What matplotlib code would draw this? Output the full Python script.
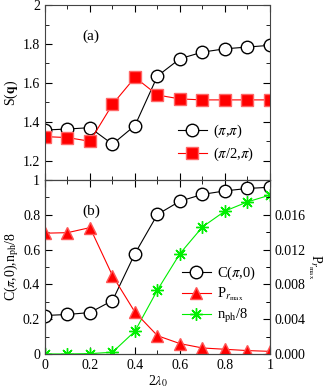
import matplotlib
matplotlib.use('Agg')
import matplotlib.pyplot as plt
from matplotlib.ticker import MultipleLocator, FormatStrFormatter, FuncFormatter

plt.rcParams['font.family'] = ['Liberation Serif', 'DejaVu Serif']
plt.rcParams['mathtext.fontset'] = 'stix'
plt.rcParams['font.size'] = 10

lam = [0.0, 0.1, 0.2, 0.3, 0.4, 0.5, 0.6, 0.7, 0.8, 0.9, 1.0]

# panel (a)
s_pipi = [1.357, 1.362, 1.369, 1.284, 1.380, 1.635, 1.724, 1.758, 1.775, 1.784, 1.793]
s_pi2pi = [1.323, 1.318, 1.299, 1.489, 1.628, 1.537, 1.517, 1.512, 1.512, 1.512, 1.512]

# panel (b)
c_pi0 = [0.221, 0.227, 0.238, 0.307, 0.577, 0.802, 0.878, 0.917, 0.937, 0.951, 0.958]
nph8 = [0.0, 0.0, 0.002, 0.01, 0.131, 0.368, 0.577, 0.730, 0.821, 0.874, 0.913]
p_rmax = [0.01388, 0.01394, 0.01452, 0.0090, 0.0048, 0.0021, 0.00119, 0.00069, 0.00054, 0.00039, 0.0003]

fig = plt.figure(figsize=(3.27, 3.92), dpi=100)
ax1 = fig.add_axes([0.1376, 0.541, 0.688, 0.446])
ax2 = fig.add_axes([0.1376, 0.097, 0.688, 0.444])

gfmt = FuncFormatter(lambda v, p: '%g' % round(v, 6))


def style(ax):
    ax.tick_params(which='both', direction='in', top=True, right=True, labelsize=10)
    ax.tick_params(which='major', length=5)
    ax.tick_params(which='minor', length=3)
    for s in ax.spines.values():
        s.set_color('#444444')
    ax.xaxis.set_major_locator(MultipleLocator(0.2))
    ax.xaxis.set_minor_locator(MultipleLocator(0.1))


ax1.plot(lam, s_pipi, '-o', color='black', lw=0.8, ms=9, mfc='white', mec='black',
         mew=1.0, label=r'($\pi$,$\pi$)')
ax1.plot(lam, s_pi2pi, '-s', color='red', lw=0.8, ms=8, mfc='red', mec='#ff6666',
         mew=1.0, label=r'($\pi$/2,$\pi$)')
ax1.set_xlim(0, 1)
ax1.set_ylim(1.1, 2.0)
style(ax1)
ax1.yaxis.set_major_locator(MultipleLocator(0.2))
ax1.yaxis.set_minor_locator(MultipleLocator(0.1))
ax1.yaxis.set_major_formatter(gfmt)
ax1.set_yticks([1.2, 1.4, 1.6, 1.8, 2.0])
ax1.tick_params(labelbottom=False)
ax1.set_ylabel(r'S($\mathbf{q}$)', labelpad=2)
ax1.text(0.165, 1.84, '(a)', fontsize=11, va='center')
ax1.legend(loc='lower right', bbox_to_anchor=(0.98, 0.03), frameon=False,
           fontsize=10.5, handlelength=2.0, handletextpad=0.4, borderpad=0.3, labelspacing=0.4)

ax3 = ax2.twinx()
l1, = ax2.plot(lam, c_pi0, '-o', color='black', lw=0.8, ms=9, mfc='white', mec='black',
               mew=1.0, label=r'C($\pi$,0)', zorder=3)
l3, = ax2.plot(lam, nph8, '-', color='#00ee00', lw=0.8, marker=(8, 2, 0), ms=9,
               mec='#00ee00', mew=1.0, label=r'n$_{\mathrm{ph}}$/8', zorder=3)
l2, = ax3.plot(lam, p_rmax, '-^', color='red', lw=0.8, ms=8, mfc='red', mec='#ff5555',
               mew=1.0, label=r'P$_{r_{\mathrm{max}}}$')
ax2.set_xlim(0, 1)
ax2.set_ylim(0, 1)
ax3.set_ylim(0, 0.02)
style(ax2)
ax2.tick_params(right=False)
ax2.yaxis.set_major_locator(MultipleLocator(0.2))
ax2.yaxis.set_minor_locator(MultipleLocator(0.1))
ax2.yaxis.set_major_formatter(gfmt)
ax2.xaxis.set_major_formatter(gfmt)
ax3.tick_params(which='both', direction='in', labelsize=10)
ax3.tick_params(which='major', length=5)
ax3.tick_params(which='minor', length=3)
ax3.set_yticks([0, 0.004, 0.008, 0.012, 0.016])
ax3.yaxis.set_minor_locator(MultipleLocator(0.002))
ax3.yaxis.set_major_formatter(FormatStrFormatter('%.3f'))
for s in ax3.spines.values():
    s.set_color('#444444')
ax2.set_ylabel(r'C($\pi$,0),n$_{\mathrm{ph}}$/8', labelpad=1)
ax3.set_ylabel(r'P$_{r_{\mathrm{max}}}$', rotation=270, labelpad=12)
ax2.set_xlabel(r'2$\lambda_0$', labelpad=1)
ax2.text(0.165, 0.82, '(b)', fontsize=11, va='center')
ax2.legend([l1, l2, l3], [l1.get_label(), l2.get_label(), l3.get_label()],
           loc='lower right', bbox_to_anchor=(0.99, 0.1), frameon=False, fontsize=10.5,
           handlelength=2.0, handletextpad=0.4, borderpad=0.3, labelspacing=0.25)

fig.savefig('out.png', dpi=100)
